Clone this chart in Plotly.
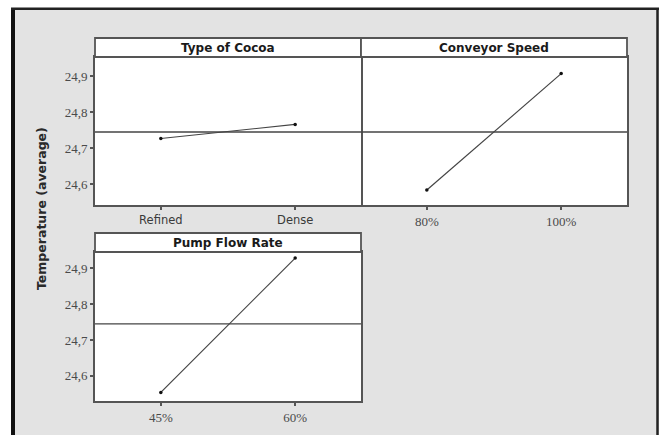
import plotly.graph_objects as go

# Main effects of three factors on average temperature
factor_names = ["Type of Cocoa", "Conveyor Speed", "Pump Flow Rate"]
cocoa_levels = ["Refined", "Dense"]
cocoa_means = [24.727, 24.766]
speed_levels = ["80%", "100%"]
speed_means = [24.584, 24.907]
pump_levels = ["45%", "60%"]
pump_means = [24.554, 24.928]
grand_mean = 24.745
y_ticks = [24.6, 24.7, 24.8, 24.9]

W, H = 659, 435
GREY = "#e3e3e3"
LINE = "#555555"
SANS = "DejaVu Sans"
SERIF = "Liberation Serif"


def px_x(p):
    return p / W


def px_y(p):
    return 1 - p / H


# panel boxes in pixels: (left, right, top, bottom)
panels = [(95, 361, 57, 205), (361, 627, 57, 205), (95, 361, 252, 401)]
strip_h = 19

fig = go.Figure()

series = [(cocoa_levels, cocoa_means), (speed_levels, speed_means), (pump_levels, pump_means)]
for i, (levels, means) in enumerate(series):
    sfx = "" if i == 0 else str(i + 1)
    fig.add_trace(go.Scatter(
        x=list(range(len(levels))), y=means,
        mode="lines+markers",
        line=dict(color="#444444", width=1.2),
        marker=dict(color="#111111", size=3.5),
        xaxis="x" + sfx, yaxis="y" + sfx,
        showlegend=False, hoverinfo="skip",
    ))

yr_top = [24.5425, 24.953]
yr_bot = [24.530, 24.945]
x_range = [-0.49, 1.49]

layout = dict(
    width=W, height=H,
    margin=dict(l=0, r=0, t=0, b=0),
    paper_bgcolor=GREY, plot_bgcolor="white",
    separators=",.",
    showlegend=False,
)

for i, (levels, _) in enumerate(series):
    l, r, t, b = panels[i]
    sfx = "" if i == 0 else str(i + 1)
    tick_font = dict(family=SANS, size=11.5, color="#3a3a3a") if i == 0 else dict(family=SERIF, size=13, color="#4a4a4a")
    layout["xaxis" + sfx] = dict(
        domain=[px_x(l), px_x(r)], range=x_range,
        tickvals=list(range(len(levels))), ticktext=levels,
        ticks="outside", ticklen=3, tickwidth=1.5, tickcolor=LINE,
        showline=True, mirror=True, linecolor=LINE, linewidth=1.8,
        showgrid=False, zeroline=False, tickfont=tick_font,
        anchor="y" + sfx, fixedrange=True,
    )
    layout["yaxis" + sfx] = dict(
        domain=[px_y(b), px_y(t)],
        range=yr_bot if i == 2 else yr_top,
        tickvals=y_ticks, tickformat=".1f",
        ticks="outside" if i != 1 else "", ticklen=3, tickwidth=1.5, tickcolor=LINE,
        showticklabels=(i != 1),
        # the middle panel shares its left edge with the first panel's right edge
        showline=(i != 1), mirror=True, linecolor=LINE, linewidth=1.8,
        showgrid=False, zeroline=False,
        tickfont=dict(family=SERIF, size=13, color="#4a4a4a"),
        anchor="x" + sfx, fixedrange=True,
    )
layout["yaxis2"]["showline"] = True
layout["yaxis2"]["mirror"] = False
layout["yaxis2"]["side"] = "right"

fig.update_layout(**layout)

shapes = []
annotations = []

# white page outside the frame
shapes.append(dict(type="rect", xref="paper", yref="paper", x0=0, x1=1, y0=px_y(8), y1=1,
                   fillcolor="white", line=dict(width=0), layer="below"))
shapes.append(dict(type="rect", xref="paper", yref="paper", x0=0, x1=px_x(12), y0=-0.05, y1=1,
                   fillcolor="white", line=dict(width=0), layer="below"))
# frame edges
shapes.append(dict(type="line", xref="paper", yref="paper", x0=px_x(13), x1=px_x(13), y0=-0.05, y1=px_y(8),
                   line=dict(color="#111111", width=4)))
shapes.append(dict(type="line", xref="paper", yref="paper", x0=px_x(11), x1=px_x(659), y0=px_y(8.8), y1=px_y(8.8),
                   line=dict(color="#222222", width=2.5)))
shapes.append(dict(type="line", xref="paper", yref="paper", x0=px_x(657.5), x1=px_x(657.5), y0=-0.05, y1=px_y(8),
                   line=dict(color="#222222", width=2.5)))

for i, name in enumerate(factor_names):
    l, r, t, b = panels[i]
    sfx = "" if i == 0 else str(i + 1)
    # title strip above each panel
    shapes.append(dict(type="rect", xref="paper", yref="paper",
                       x0=px_x(l), x1=px_x(r), y0=px_y(t), y1=px_y(t - strip_h),
                       fillcolor="white", line=dict(color=LINE, width=1.8)))
    annotations.append(dict(text="<b>%s</b>" % name, xref="paper", yref="paper",
                            x=px_x((l + r) / 2), y=px_y(t - strip_h / 2),
                            xanchor="center", yanchor="middle", showarrow=False,
                            font=dict(family=SANS, size=12, color="#1a1a1a")))
    # overall mean reference line
    shapes.append(dict(type="line", xref="x%s domain" % sfx, yref="y" + sfx,
                       x0=0, x1=1, y0=grand_mean, y1=grand_mean,
                       line=dict(color="#444444", width=1.3)))

annotations.append(dict(text="<b>Temperature (average)</b>", xref="paper", yref="paper",
                        x=px_x(42), y=px_y(209), textangle=-90,
                        xanchor="center", yanchor="middle", showarrow=False,
                        font=dict(family=SANS, size=12.5, color="#2a2a2a")))

fig.update_layout(shapes=shapes, annotations=annotations)
fig.write_html("out.html")
